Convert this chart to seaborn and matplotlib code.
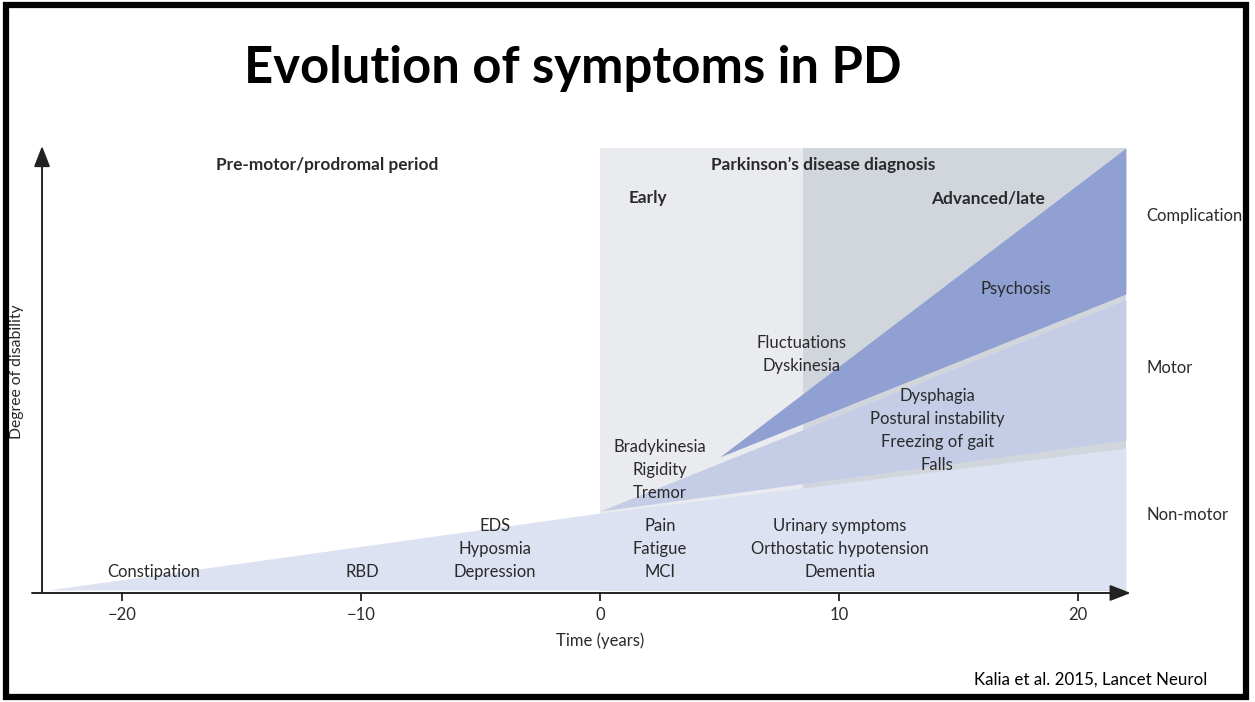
import matplotlib
matplotlib.use("Agg")
import matplotlib.pyplot as plt
import seaborn as sns
import pandas as pd
from matplotlib.patches import Rectangle

sns.set_theme(style="white")
plt.rcParams['font.family'] = ['Lato', 'DejaVu Sans']

# ---------------- data ----------------
# phase backgrounds (years)
early_x = [0.0, 8.5]
late_x = [8.5, 22.0]
bg_top = 445

# non-motor band
nonmotor_x = [-23.1, 0.0, 22.0]
nonmotor_top = [3, 80, 145]
# motor band
motor_x = [0.0, 22.0]
motor_bottom = [82, 153]
motor_top = [82, 293]
# complications band
compl_x = [5.0, 22.0]
compl_bottom = [136, 299]
compl_top = [136, 445]

xticks = [-20, -10, 0, 10, 20]

# symptom groups: x (years), y of first (top) line, lines
sym_x = [-18.66, -9.96, -4.39, 2.51, 10.04, 2.51, 8.41, 14.1, 17.4]
sym_y = [21, 21, 67, 67, 67, 146, 250, 197, 304]
sym_lines = [
    ["Constipation"],
    ["RBD"],
    ["EDS", "Hyposmia", "Depression"],
    ["Pain", "Fatigue", "MCI"],
    ["Urinary symptoms", "Orthostatic hypotension", "Dementia"],
    ["Bradykinesia", "Rigidity", "Tremor"],
    ["Fluctuations", "Dyskinesia"],
    ["Dysphagia", "Postural instability", "Freezing of gait", "Falls"],
    ["Psychosis"],
]

band_labels = ["Complications", "Motor", "Non-motor"]
band_y = [377, 225, 78]

header_labels = ["Pre-motor/prodromal period", "Parkinson\u2019s disease diagnosis",
                 "Early", "Advanced/late"]
header_x = [-11.42, 9.33, 2.0, 16.23]
header_y = [428, 428, 395, 395]

# colours
c_early = "#e9ebee"
c_late = "#d1d6dd"
c_nonmotor = "#dde2f2"
c_motor = "#c4cce6"
c_compl = "#90a0d2"
c_text = "#2a2a2a"

W, H = 1255, 702
fig = plt.figure(figsize=(W / 100, H / 100), dpi=100)
fig.patch.set_facecolor("white")

ax = fig.add_axes([32 / W, (H - 593) / H, 1103 / W, 453 / H])
ax.set_xlim(-23.77, 22.38)
ax.set_ylim(0, 453)
ax.set_facecolor("none")
for s in ax.spines.values():
    s.set_visible(False)

# backgrounds
ax.fill_between(early_x, 2, bg_top, color=c_early, lw=0, zorder=1)
ax.fill_between(late_x, 2, bg_top, color=c_late, lw=0, zorder=1)

# bands
nm = pd.DataFrame({"x": nonmotor_x, "y": nonmotor_top})
sns.lineplot(data=nm, x="x", y="y", ax=ax, color=c_nonmotor, lw=0, zorder=2)
ax.fill_between(nonmotor_x, 3, nonmotor_top, color=c_nonmotor, lw=0, zorder=2)
ax.fill_between(motor_x, motor_bottom, motor_top, color=c_motor, lw=0, zorder=3)
ax.fill_between(compl_x, compl_bottom, compl_top, color=c_compl, lw=0, zorder=4)

# axes arrows
ax.annotate("", xy=(22.2, 0), xytext=(-23.77, 0),
            arrowprops=dict(arrowstyle="-|>,head_length=0.9,head_width=0.35",
                            color="#222222", lw=1.4, shrinkA=0, shrinkB=0,
                            mutation_scale=14), zorder=6, annotation_clip=False)
ax.annotate("", xy=(-23.35, 447), xytext=(-23.35, 0),
            arrowprops=dict(arrowstyle="-|>,head_length=0.9,head_width=0.35",
                            color="#222222", lw=1.4, shrinkA=0, shrinkB=0,
                            mutation_scale=14), zorder=6, annotation_clip=False)

ax.set_xticks(xticks)
ax.set_xticklabels([f"\u2212{abs(t)}" if t < 0 else f"{t}" for t in xticks])
ax.set_yticks([])
ax.tick_params(axis="x", direction="out", length=6, width=1.3, color="#222222",
               bottom=True, labelsize=12, labelcolor=c_text, pad=4)
ax.set_xlabel("")
ax.set_ylabel("")
ax.grid(False)

ax.text(0, -48, "Time (years)", ha="center", va="center", fontsize=12, color=c_text)

# symptom texts
fs = 12
step = 23
for x, y0, lines in zip(sym_x, sym_y, sym_lines):
    for i, line in enumerate(lines):
        ax.text(x, y0 - i * step, line, ha="center", va="center",
                fontsize=fs, color=c_text, zorder=8)

for lab, y in zip(band_labels, band_y):
    ax.text(22.85, y, lab, ha="left", va="center", fontsize=fs, color=c_text,
            zorder=8, clip_on=False)

for lab, x, y in zip(header_labels, header_x, header_y):
    ax.text(x, y, lab, ha="center", va="center", fontsize=12.4, color=c_text,
            fontweight="bold", zorder=8)

# y label
fig.text(17 / W, 1 - 372 / H, "Degree of disability", rotation=90, ha="center",
         va="center", fontsize=11.3, color=c_text)

# title
fig.text(573 / W, 1 - 69 / H, "Evolution of symptoms in PD", ha="center",
         va="center", fontsize=36.5, fontweight="bold", color="black")

# credit
fig.text(1091 / W, 1 - 680 / H, "Kalia et al. 2015, Lancet Neurol", ha="center",
         va="center", fontsize=12.2, color="black")

# slide border
fig.add_artist(Rectangle((6 / W, 5 / H), 1240 / W, 692 / H, transform=fig.transFigure,
                         fill=False, edgecolor="black", lw=4.5, zorder=20))

fig.savefig("out.png", dpi=100, facecolor="white")
